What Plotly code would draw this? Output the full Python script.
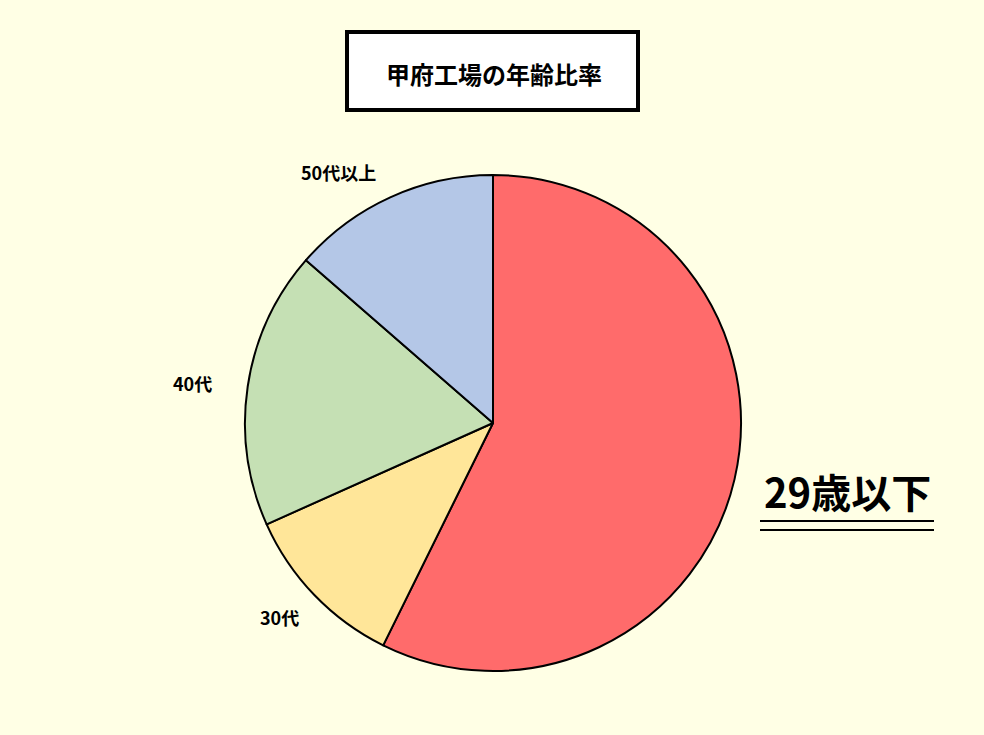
import plotly.graph_objects as go

# age groups (clockwise from 12 o'clock)
labels = ["29歳以下", "30代", "40代", "50代以上"]
shares = [57.3, 11.0, 18.1, 13.6]
colors = ["#FF6B6B", "#FFE699", "#C5E0B4", "#B4C7E7"]

title_text = "甲府工場の年齢比率"

W, H = 984, 735


def px(x):
    return x / W


def py(y):
    return 1 - y / H


fig = go.Figure(go.Pie(
    labels=labels,
    values=shares,
    sort=False,
    direction="clockwise",
    rotation=0,
    marker=dict(colors=colors, line=dict(color="black", width=2)),
    textinfo="none",
    hoverinfo="label+percent",
    domain=dict(x=[px(245), px(741)], y=[py(672), py(174)]),
    showlegend=False,
))

# label positions in pixels: (x, y, size)
label_pos = [(847, 491, 40), (279, 617, 18), (192, 383, 18), (338, 172, 18)]
annotations = []
for name, (x, y, s) in zip(labels, label_pos):
    annotations.append(dict(
        x=px(x), y=py(y), xref="paper", yref="paper",
        text="<b>" + name + "</b>", showarrow=False,
        font=dict(size=s, color="black", family="Noto Sans CJK JP"),
        xanchor="center", yanchor="middle",
    ))
annotations.append(dict(
    x=px(494), y=py(73), xref="paper", yref="paper",
    text="<b>" + title_text + "</b>", showarrow=False,
    font=dict(size=24, color="black", family="Noto Sans CJK JP"),
    xanchor="center", yanchor="middle",
))

shapes = [
    dict(type="rect", xref="paper", yref="paper",
         x0=px(347), x1=px(638), y0=py(110), y1=py(32),
         fillcolor="white", line=dict(color="black", width=4), layer="below"),
    dict(type="line", xref="paper", yref="paper",
         x0=px(760), x1=px(934), y0=py(521), y1=py(521),
         line=dict(color="black", width=2)),
    dict(type="line", xref="paper", yref="paper",
         x0=px(760), x1=px(934), y0=py(530), y1=py(530),
         line=dict(color="black", width=2)),
]

fig.update_layout(
    width=W, height=H,
    margin=dict(l=0, r=0, t=0, b=0),
    paper_bgcolor="#FFFFE5",
    plot_bgcolor="#FFFFE5",
    annotations=annotations,
    shapes=shapes,
)

fig.write_html("out.html", config={"displayModeBar": False},
               post_script="document.body.style.margin='0';")
